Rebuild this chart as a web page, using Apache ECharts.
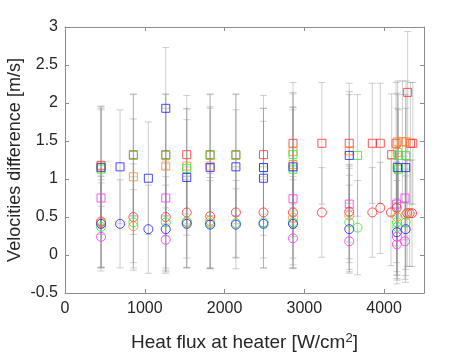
<!DOCTYPE html>
<html>
<head>
<meta charset="utf-8">
<script src="https://cdn.jsdelivr.net/npm/echarts@6/dist/echarts.min.js"></script>
<style>
  html, body { margin: 0; padding: 0; background: #fff; }
  #chart { width: 469px; height: 352px; }
</style>
</head>
<body>
<div id="chart"></div>
<script>
// [heat flux, velocity difference, error half-width]
var redSquare = [
  [452, 1.18, 0.78], [857, 1.32, 0.80], [1263, 1.32, 0.80], [1526, 1.32, 0.78],
  [1819, 1.32, 0.80], [2142, 1.32, 0.80], [2488, 1.32, 0.78], [2858, 1.47, 0.80],
  [3220, 1.47, 0.80], [3563, 1.47, 0.79], [3852, 1.47, 0.79], [3952, 1.47, 0.79],
  [4095, 1.32, 0.80], [4150, 1.47, 0.80], [4295, 2.14, 0.80], [4330, 1.47, 0.80],
  [4360, 1.47, 0.80]
];
var orangeSquare = [
  [452, 1.17, 0.78], [857, 1.03, 0.76], [1263, 1.17, 0.76], [1526, 1.17, 0.76],
  [1819, 1.17, 0.78], [2858, 1.36, 0.78], [2858, 1.19, 0.76], [3563, 1.37, 0.78],
  [4165, 1.35, 0.78], [4170, 1.49, 0.80], [4230, 1.49, 0.80], [4275, 1.49, 0.80]
];
var greenSquare = [
  [452, 1.13, 0.78], [857, 1.31, 0.80], [1263, 1.31, 0.80], [1526, 1.14, 0.78],
  [1819, 1.31, 0.80], [2142, 1.31, 0.80], [2488, 1.15, 0.78], [2858, 1.32, 0.80],
  [2858, 1.13, 0.78], [3667, 1.31, 0.80], [4178, 1.31, 0.80], [4180, 1.13, 0.78],
  [4270, 1.31, 0.80]
];
var blueSquare = [
  [452, 1.15, 0.78], [690, 1.16, 0.75], [1045, 1.01, 0.74], [1263, 1.93, 0.80],
  [1526, 1.02, 0.76], [1819, 1.15, 0.78], [2142, 1.16, 0.75], [2488, 1.15, 0.78],
  [2488, 1.01, 0.75], [2858, 1.16, 0.78], [3563, 1.31, 0.80], [4166, 1.15, 0.78],
  [4270, 1.15, 0.78]
];
var magentaSquare = [
  [452, 0.75, 0.48], [1263, 0.75, 0.50], [2858, 0.74, 0.50], [3563, 0.67, 0.50],
  [4157, 0.67, 0.55], [4262, 0.75, 0.55]
];
var redCircle = [
  [452, 0.44, 0.60], [857, 0.50, 0.70], [1263, 0.50, 0.70], [1526, 0.56, 0.60],
  [1819, 0.51, 0.68], [2142, 0.56, 0.60], [2488, 0.56, 0.60], [2858, 0.56, 0.60],
  [3220, 0.56, 0.59], [3563, 0.57, 0.62], [3852, 0.56, 0.59], [3952, 0.62, 0.60],
  [4086, 0.56, 0.70], [4157, 0.62, 0.72], [4290, 0.55, 0.70], [4320, 0.55, 0.70],
  [4350, 0.55, 0.70]
];
var orangeCircle = [
  [452, 0.43, 0.60], [857, 0.38, 0.48], [1526, 0.43, 0.60], [1819, 0.45, 0.62],
  [2858, 0.49, 0.62], [3563, 0.52, 0.62], [4160, 0.50, 0.72], [4270, 0.53, 0.72]
];
var greenCircle = [
  [452, 0.37, 0.58], [857, 0.43, 0.60], [1263, 0.43, 0.60], [1526, 0.44, 0.60],
  [1819, 0.42, 0.60], [2142, 0.42, 0.45], [2488, 0.43, 0.60], [2858, 0.43, 0.60],
  [3563, 0.43, 0.62], [3667, 0.36, 0.62], [4160, 0.43, 0.70], [4165, 0.37, 0.70],
  [4270, 0.43, 0.70]
];
var blueCircle = [
  [452, 0.41, 0.58], [690, 0.41, 0.58], [1045, 0.34, 0.58], [1263, 0.34, 0.58],
  [1526, 0.41, 0.58], [1819, 0.40, 0.58], [2142, 0.40, 0.58], [2488, 0.41, 0.58],
  [2858, 0.41, 0.58], [3563, 0.34, 0.58], [4160, 0.30, 0.68], [4270, 0.34, 0.70]
];
var magentaCircle = [
  [452, 0.24, 0.40], [1263, 0.20, 0.42], [2858, 0.22, 0.40], [3563, 0.18, 0.40],
  [4160, 0.24, 0.50], [4160, 0.14, 0.45], [4262, 0.18, 0.50]
];

var xTicks = [0, 1000, 2000, 3000, 4000];

var chart = echarts.init(document.getElementById('chart'));
var font = 'Liberation Sans, Arial, Helvetica, sans-serif';
var textColor = '#262626';
var axisColor = '#8c8c8c';
var barColor = 'rgba(140,140,140,0.42)';

var groups = [
  { name: 'red sq', data: redSquare, symbol: 'rect', color: '#ff2a2a' },
  { name: 'orange sq', data: orangeSquare, symbol: 'rect', color: '#ff8a1a' },
  { name: 'green sq', data: greenSquare, symbol: 'rect', color: '#2ee82e' },
  { name: 'blue sq', data: blueSquare, symbol: 'rect', color: '#1a1aff' },
  { name: 'magenta sq', data: magentaSquare, symbol: 'rect', color: '#ff2aff' },
  { name: 'red ci', data: redCircle, symbol: 'circle', color: '#ff2a2a' },
  { name: 'orange ci', data: orangeCircle, symbol: 'circle', color: '#ff8a1a' },
  { name: 'green ci', data: greenCircle, symbol: 'circle', color: '#2ee82e' },
  { name: 'blue ci', data: blueCircle, symbol: 'circle', color: '#1a1aff' },
  { name: 'magenta ci', data: magentaCircle, symbol: 'circle', color: '#ff2aff' }
];

// all error bars in one custom series, drawn under the markers
var allBars = [];
groups.forEach(function(g) {
  allBars = allBars.concat(g.data);
});

function renderErrorBar(params, api) {
  var x = api.value(0), y = api.value(1), e = api.value(2);
  var hi = api.coord([x, y + e]);
  var lo = api.coord([x, y - e]);
  var w = 3.5;
  var st = { stroke: barColor, lineWidth: 1, fill: null };
  return {
    type: 'group',
    children: [
      { type: 'line', shape: { x1: hi[0], y1: hi[1], x2: lo[0], y2: lo[1] }, style: st },
      { type: 'line', shape: { x1: hi[0] - w, y1: hi[1], x2: hi[0] + w, y2: hi[1] }, style: st },
      { type: 'line', shape: { x1: lo[0] - w, y1: lo[1], x2: lo[0] + w, y2: lo[1] }, style: st }
    ]
  };
}

var series = [{
  type: 'custom',
  renderItem: renderErrorBar,
  data: allBars,
  encode: { x: 0, y: 1 },
  silent: true,
  z: 1
}];
groups.forEach(function(g) {
  series.push({
    name: g.name,
    type: 'scatter',
    data: g.data,
    symbol: g.symbol,
    symbolSize: g.symbol === 'rect' ? 8 : 9,
    itemStyle: { color: 'rgba(0,0,0,0)', borderColor: g.color, borderWidth: 1 },
    z: 3
  });
});

var axisLine = { show: true, onZero: false, lineStyle: { color: axisColor, width: 1 } };
var axisTick = { show: true, inside: true, length: 4, lineStyle: { color: axisColor } };

var option = {
  animation: false,
  backgroundColor: '#fff',
  grid: { left: 65, right: 45, top: 27, bottom: 59, show: false, containLabel: false, outerBoundsMode: 'none' },
  xAxis: [{
    type: 'value',
    min: 0,
    max: 4500,
    interval: 1000,
    name: 'Heat flux at heater [W/cm{sup|2}]',
    nameLocation: 'middle',
    nameGap: 39,
    nameTextStyle: {
      color: textColor, fontSize: 19, fontFamily: font, lineHeight: 22,
      rich: { sup: { fontSize: 13, fontFamily: font, color: textColor, verticalAlign: 'top', lineHeight: 22 } }
    },
    axisLine: axisLine,
    axisTick: axisTick,
    axisLabel: {
      color: textColor, fontSize: 16, fontFamily: font, margin: 8,
      formatter: function(v) { return xTicks.indexOf(v) >= 0 ? String(v) : ''; }
    },
    splitLine: { show: false }
  }, {
    type: 'value',
    position: 'top',
    min: 0,
    max: 4500,
    interval: 1000,
    axisLine: axisLine,
    axisTick: axisTick,
    axisLabel: { show: false },
    splitLine: { show: false }
  }],
  yAxis: [{
    type: 'value',
    min: -0.5,
    max: 3,
    interval: 0.5,
    name: 'Velocities difference [m/s]',
    nameLocation: 'middle',
    nameGap: 41,
    nameMoveOverlap: false,
    nameTextStyle: { color: textColor, fontSize: 18, fontFamily: font },
    axisLine: axisLine,
    axisTick: axisTick,
    axisLabel: { color: textColor, fontSize: 16, fontFamily: font, margin: 7 },
    splitLine: { show: false }
  }, {
    type: 'value',
    position: 'right',
    min: -0.5,
    max: 3,
    interval: 0.5,
    axisLine: axisLine,
    axisTick: axisTick,
    axisLabel: { show: false },
    splitLine: { show: false }
  }],
  series: series
};

chart.setOption(option);
</script>
</body>
</html>
